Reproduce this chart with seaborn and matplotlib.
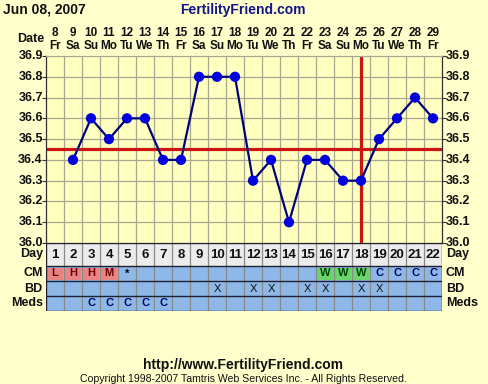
import numpy as np
import pandas as pd
import matplotlib
matplotlib.use("Agg")
import matplotlib.pyplot as plt
import matplotlib.transforms as mtrans
from matplotlib.patches import Rectangle
import seaborn as sns

# ---------------- data ----------------
cycle_days = list(range(1, 23))
dates = [str(d) for d in range(8, 30)]
weekdays = ["Fr", "Sa", "Su", "Mo", "Tu", "We", "Th"] * 3 + ["Fr"]
temps = [np.nan, 36.4, 36.6, 36.5, 36.6, 36.6, 36.4, 36.4, 36.8, 36.8, 36.8,
         36.3, 36.4, 36.1, 36.4, 36.4, 36.3, 36.3, 36.5, 36.6, 36.7, 36.6]
coverline = 36.45
ovulation_day = 18
y_ticks = [36.0, 36.1, 36.2, 36.3, 36.4, 36.5, 36.6, 36.7, 36.8, 36.9]
cm = ["L", "H", "H", "M", "*", "", "", "", "", "", "", "", "", "", "",
      "W", "W", "W", "C", "C", "C", "C"]
bd = ["", "", "", "", "", "", "", "", "", "X", "", "X", "X", "", "X",
      "X", "", "X", "X", "", "", ""]
meds = ["", "", "C", "C", "C", "C", "C", "", "", "", "", "", "", "", "",
        "", "", "", "", "", "", ""]
title_date = "Jun 08, 2007"
site = "FertilityFriend.com"
footer_url = "http://www.FertilityFriend.com"
copyright_txt = "Copyright 1998-2007 Tamtris Web Services Inc. - All Rights Reserved."

df = pd.DataFrame({"day": cycle_days, "temp": temps})

# ---------------- figure ----------------
sns.set_theme(style="white")
plt.rcParams["font.family"] = ["Liberation Sans", "DejaVu Sans"]
W, H = 488, 384
BG = "#ffffcc"
fig = plt.figure(figsize=(W / 100, H / 100), dpi=100, facecolor=BG)

def px_axes(x0, y0, x1, y1):
    return fig.add_axes([x0 / W, 1 - y1 / H, (x1 - x0) / W, (y1 - y0) / H])

PL, PR, PT, PB = 46, 442, 56, 243
ax = px_axes(PL, PT, PR, PB)
ax.set_facecolor("#ffffc0")
ax.set_xlim(0.5, 22.5)
ax.set_ylim(36.0, 36.9)

gridc = "#a8a890"
for b in np.arange(1.5, 22.5, 1):
    ax.axvline(b, color=gridc, lw=0.9, zorder=1)
for t in y_ticks[1:-1]:
    ax.axhline(t, color=gridc, lw=0.9, zorder=1)

for s in ["left", "right", "bottom", "top"]:
    ax.spines[s].set_color("#303030")
    ax.spines[s].set_linewidth(0.9)
ax.spines["top"].set_color(gridc)

ax.set_yticks(y_ticks)
ax.set_yticklabels([])
ax.set_xticks([])
ax.tick_params(axis="y", which="both", left=True, right=True, length=3,
               width=0.8, color="#303030", direction="out")

red = "#cc1414"
ax.axhline(coverline, color=red, lw=2.3, zorder=2)
ax.axvline(ovulation_day, color=red, lw=2.3, zorder=2)

sns.lineplot(data=df, x="day", y="temp", ax=ax, color="#00007a", lw=1.6,
             zorder=3, legend=False)
sns.scatterplot(data=df, x="day", y="temp", ax=ax, color="#0000dd", s=55,
                edgecolor="none", zorder=4, legend=False)
ax.set_xlabel("")
ax.set_ylabel("")

fs = 8.5
txtc = "#101010"
ytr = mtrans.blended_transform_factory(ax.transAxes, ax.transData)
for t in y_ticks:
    ax.text(-0.008, t, f"{t:.1f}", transform=ytr, ha="right", va="center",
            fontsize=9, fontweight="bold", color=txtc)
    ax.text(1.01, t, f"{t:.1f}", transform=ytr, ha="left", va="center",
            fontsize=9, fontweight="bold", color=txtc)

# header
hdr = mtrans.blended_transform_factory(ax.transData, fig.transFigure)
for d, dt, wd in zip(cycle_days, dates, weekdays):
    ax.text(d, 1 - 33 / H, dt, transform=hdr, ha="center", va="center",
            fontsize=fs, fontweight="bold", color=txtc)
    ax.text(d, 1 - 46 / H, wd, transform=hdr, ha="center", va="center",
            fontsize=fs, fontweight="bold", color=txtc)
fig.text(44 / W, 1 - 39 / H, "Date", ha="right", va="center", fontsize=9,
         fontweight="bold", color=txtc)
fig.text(3 / W, 1 - 10 / H, title_date, ha="left", va="center", fontsize=10,
         fontweight="bold", color=txtc)
fig.text(243 / W, 1 - 10 / H, site, ha="center", va="center", fontsize=10,
         fontweight="bold", color="#14148c")

# ---------------- table ----------------
TB = 311
tax = px_axes(PL, PB, PR, TB)
tax.set_xlim(0.5, 22.5)
tax.set_ylim(68, 0)
tax.axis("off")
tax.add_patch(Rectangle((0.5, 0), 22, 23, facecolor="#ececec", edgecolor="none", zorder=0))
tax.add_patch(Rectangle((0.5, 23), 22, 45, facecolor="#8db8e8", edgecolor="none", zorder=0))

for d, c in zip(cycle_days, cm):
    if c in ("L", "H", "M"):
        tax.add_patch(Rectangle((d - 0.44, 24.5), 0.88, 12.5, facecolor="#e88484",
                                edgecolor="none", zorder=1))
    elif c == "W":
        tax.add_patch(Rectangle((d - 0.44, 24.5), 0.88, 12.5, facecolor="#6cd46c",
                                edgecolor="none", zorder=1))

for b in np.arange(1.5, 22.5, 1):
    tax.plot([b, b], [0, 68], color="#8a8a8a", lw=0.9, zorder=2)
for yb in [0, 23, 38, 53, 68]:
    tax.plot([0.5, 22.5], [yb, yb], color="#202030", lw=1.0, zorder=3)
tax.plot([0.5, 0.5], [0, 68], color="#202030", lw=1.0, zorder=3)
tax.plot([22.5, 22.5], [0, 68], color="#202030", lw=1.0, zorder=3)

cm_colors = {"L": "#6a0000", "H": "#6a0000", "M": "#6a0000", "W": "#004400",
             "C": "#000066", "*": "#000000"}
for d in cycle_days:
    tax.text(d, 11.5, str(d), ha="center", va="center", fontsize=9.5,
             fontweight="bold", color=txtc, zorder=4)
    c = cm[d - 1]
    if c:
        tax.text(d, 30.5, c, ha="center", va="center", fontsize=8,
                 fontweight="bold", color=cm_colors[c], zorder=4)
    if bd[d - 1]:
        tax.text(d, 45.5, bd[d - 1], ha="center", va="center", fontsize=8,
                 color="#101010", zorder=4)
    if meds[d - 1]:
        tax.text(d, 60.5, meds[d - 1], ha="center", va="center", fontsize=8,
                 fontweight="bold", color="#000066", zorder=4)

ttr = mtrans.blended_transform_factory(tax.transAxes, tax.transData)
for lab, yc in [("Day", 11.5), ("CM", 30.5), ("BD", 45.5), ("Meds", 60.5)]:
    tax.text(-0.008, yc, lab, transform=ttr, ha="right", va="center",
             fontsize=9, fontweight="bold", color=txtc)
    tax.text(1.01, yc, lab, transform=ttr, ha="left", va="center",
             fontsize=9, fontweight="bold", color=txtc)

# footer
fig.text(243 / W, 1 - 365 / H, footer_url, ha="center", va="center", fontsize=10,
         fontweight="bold", color=txtc)
fig.text(243 / W, 1 - 379 / H, copyright_txt, ha="center", va="center", fontsize=7.6,
         color=txtc)

fig.savefig("out.png", dpi=100, facecolor=BG)
